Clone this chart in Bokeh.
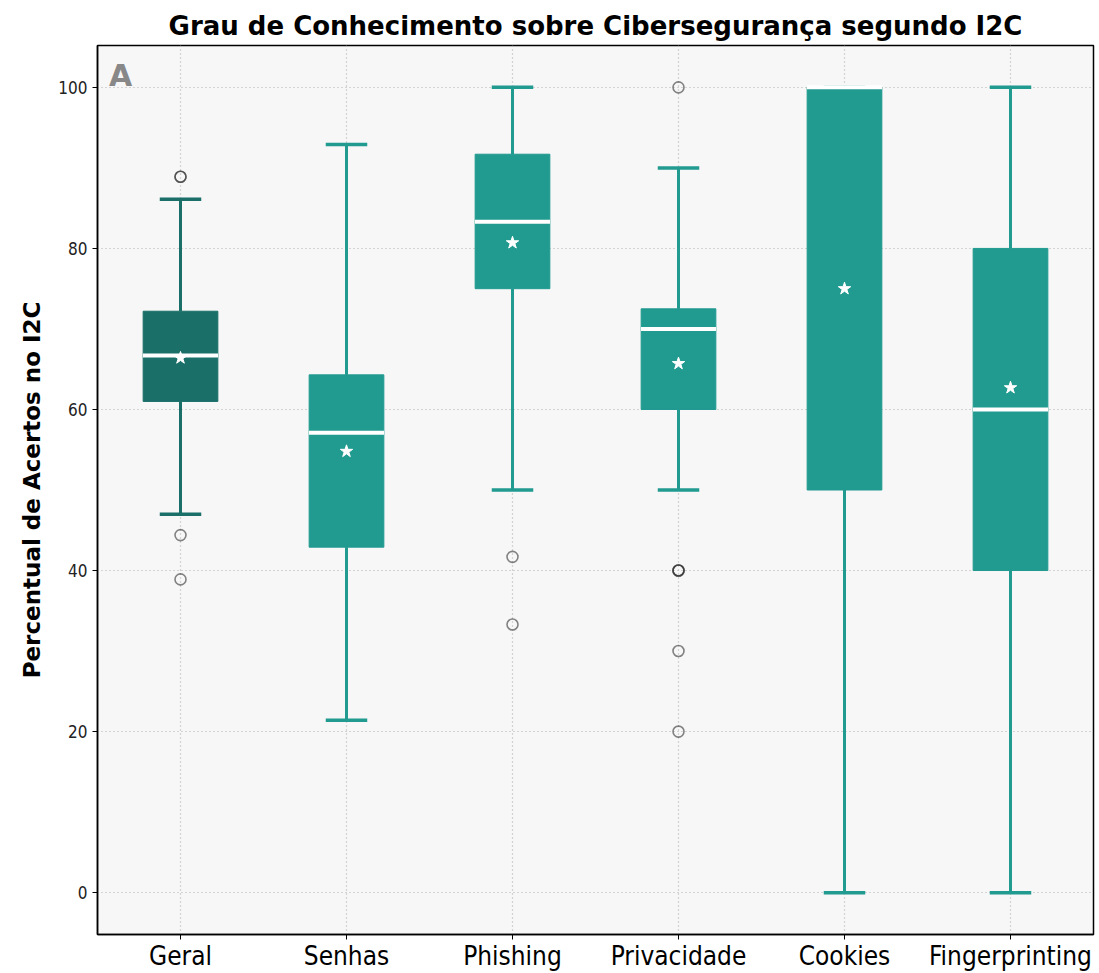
from bokeh.plotting import figure
from bokeh.models import FixedTicker, Label
from bokeh.embed import file_html
from bokeh.resources import INLINE

# Knowledge-score distributions per topic (percent correct)
categories = ["Geral", "Senhas", "Phishing", "Privacidade", "Cookies", "Fingerprinting"]
whisker_low = [47.0, 21.4, 50.0, 50.0, 0.0, 0.0]
q1 = [61.0, 42.9, 75.0, 60.0, 50.0, 40.0]
median = [66.7, 57.1, 83.3, 70.0, 100.0, 60.0]
q3 = [72.2, 64.3, 91.7, 72.5, 100.0, 80.0]
whisker_high = [86.1, 92.9, 100.0, 90.0, 100.0, 100.0]
means = [66.4, 54.8, 80.7, 65.7, 75.0, 62.7]
outlier_cat = [1, 1, 1, 1, 3, 3, 4, 4, 4, 4, 4, 4]
outlier_val = [88.9, 88.9, 44.4, 38.9, 41.7, 33.3, 100.0, 40.0, 40.0, 40.0, 30.0, 20.0]
y_ticks = [0, 20, 40, 60, 80, 100]

colors = ["#1b6f69"] + ["#219a90"] * 5
xs = list(range(1, len(categories) + 1))

p = figure(width=1099, height=973, x_range=(0.5, 6.5), y_range=(-5.2, 105.2),
           output_backend="svg", toolbar_location=None,
           min_border_left=97, min_border_right=6, min_border_top=45, min_border_bottom=30,
           border_fill_color="#ffffff")
p.background_fill_color = "#f7f7f7"

p.title.text = "Grau de Conhecimento sobre Cibersegurança segundo I2C"
p.title.align = "center"
p.title.text_font = "DejaVu Sans"
p.title.text_font_size = "26px"
p.title.text_font_style = "bold"
p.title.text_color = "#000000"

# whiskers and caps (drawn first, boxes sit on top)
p.segment(x0=xs, y0=q3, x1=xs, y1=whisker_high, line_color=colors, line_width=3)
p.segment(x0=xs, y0=q1, x1=xs, y1=whisker_low, line_color=colors, line_width=3)
cap_l = [x - 0.125 for x in xs]
cap_r = [x + 0.125 for x in xs]
p.segment(x0=cap_l, y0=whisker_high, x1=cap_r, y1=whisker_high, line_color=colors, line_width=3.5)
p.segment(x0=cap_l, y0=whisker_low, x1=cap_r, y1=whisker_low, line_color=colors, line_width=3.5)

# boxes
p.vbar(x=xs, bottom=q1, top=q3, width=0.45, fill_color=colors, line_color=colors, line_width=1)

# medians
p.segment(x0=[x - 0.226 for x in xs], y0=median, x1=[x + 0.226 for x in xs], y1=median,
          line_color="white", line_width=4)

# means
p.scatter(x=xs, y=means, marker="star", size=13, fill_color="white", line_color="white")

# outliers
p.scatter(x=outlier_cat, y=outlier_val, marker="circle", size=11, fill_color=None,
          line_color="#333333", line_alpha=0.6, line_width=1.6)

# panel letter
p.add_layout(Label(x=0.57, y=103.6, text="A", text_font="DejaVu Sans", text_font_size="30px",
                   text_font_style="bold", text_color="#888888", text_baseline="top"))

# axes
p.xaxis.ticker = FixedTicker(ticks=xs)
p.xaxis.major_label_overrides = {x: c for x, c in zip(xs, categories)}
p.xaxis.major_label_text_font = "DejaVu Sans Condensed"
p.xaxis.major_label_text_font_size = "26px"
p.xaxis.major_label_text_color = "#000000"
p.xaxis.major_label_standoff = 1
p.yaxis.ticker = FixedTicker(ticks=y_ticks)
p.yaxis.major_label_text_font = "DejaVu Sans Condensed"
p.yaxis.major_label_text_font_size = "17px"
p.yaxis.major_label_text_color = "#222222"
p.yaxis.axis_label = "Percentual de Acertos no I2C"
p.yaxis.axis_label_text_font = "DejaVu Sans"
p.yaxis.axis_label_text_font_size = "23px"
p.yaxis.axis_label_text_font_style = "bold"
p.yaxis.axis_label_text_color = "#000000"
p.yaxis.axis_label_standoff = 10
for ax in (p.xaxis, p.yaxis):
    ax.axis_line_color = "#000000"
    ax.axis_line_width = 1.5
    ax.major_tick_line_color = "#000000"
    ax.major_tick_out = 5
    ax.major_tick_in = 0
    ax.minor_tick_line_color = None
p.outline_line_color = "#000000"
p.outline_line_width = 1.5

for g in (p.xgrid, p.ygrid):
    g.grid_line_color = "#b0b0b0"
    g.grid_line_dash = "1 3"
    g.grid_line_width = 1.2

open("out.html", "w").write(file_html(p, INLINE))
